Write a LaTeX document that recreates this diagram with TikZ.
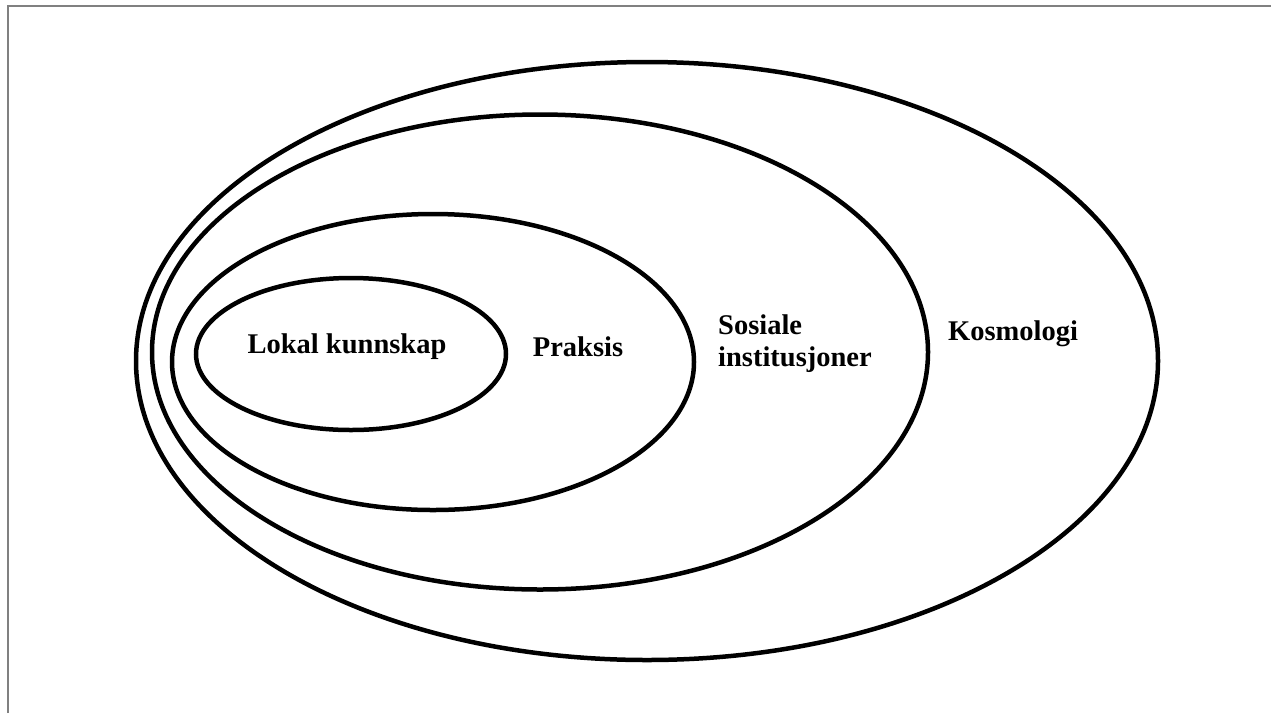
\documentclass[tikz,border=0pt]{standalone}
\usepackage{fontspec}
\setmainfont{Liberation Serif}
\usepackage{tikz}
\usetikzlibrary{shapes.geometric}

\begin{document}
\begin{tikzpicture}[x=1pt, y=-1pt]
               \tikzstyle{myEll}=[ellipse, draw, line width=4.5pt, inner sep=0pt]
               \tikzstyle{myLab}=[font=\fontsize{28.5}{32}\selectfont\bfseries, inner sep=0pt]

               \useasboundingbox (0,0) rectangle (1271,713);
               \draw[gray, line width=2pt] (8,713) -- (8,6) -- (1271,6);

               \node[myEll, minimum width=1022pt, minimum height=598pt] (kosmo) at (647,361) {};
               \node[myEll, minimum width=776pt, minimum height=475pt] (sosial) at (540,352) {};
               \node[myEll, minimum width=522pt, minimum height=296pt] (praksis) at (433,362) {};
               \node[myEll, minimum width=310pt, minimum height=152pt] (lokal) at (351,354) {};

               \node[myLab] (lLokal) at (347,347) {Lokal kunnskap};
               \node[myLab] (lPraksis) at (578,347) {Praksis};
               \node[myLab, align=left, anchor=west] (lSosial) at (718,344) {Sosiale\\institusjoner};
               \node[myLab] (lKosmo) at (1013,334) {Kosmologi};
            \end{tikzpicture}
\end{document}
